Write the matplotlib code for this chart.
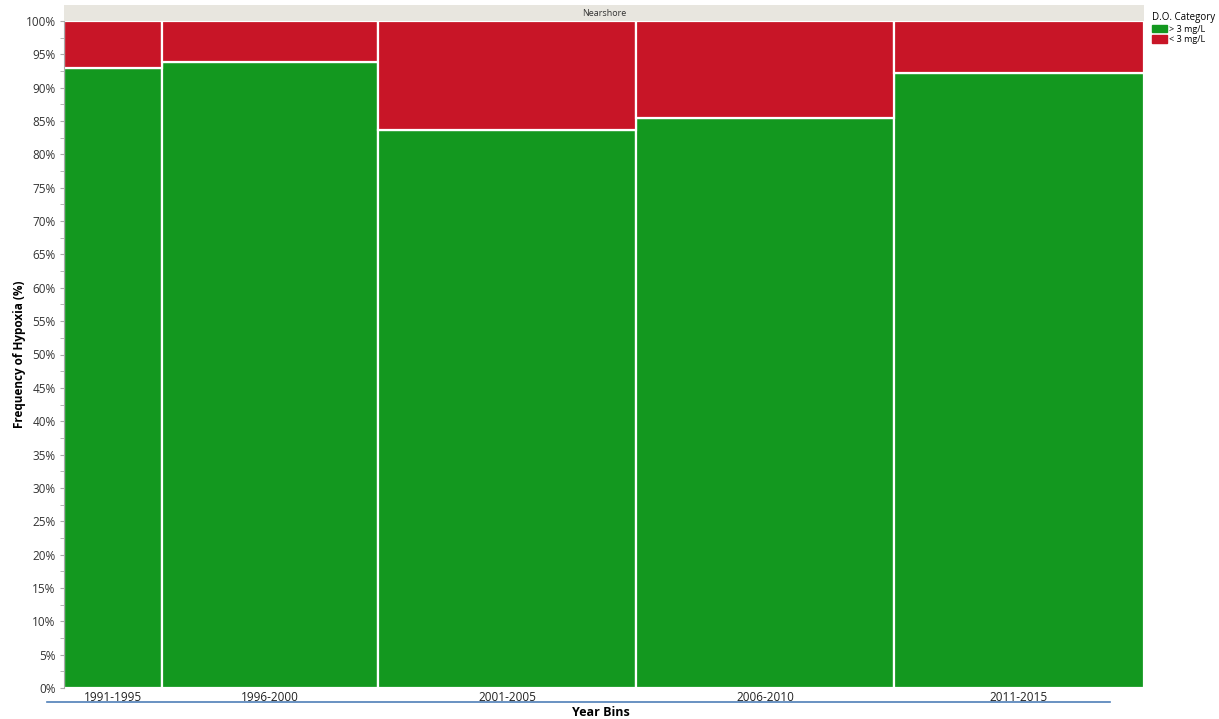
import matplotlib.pyplot as plt
import matplotlib.patches as mpatches
from matplotlib.lines import Line2D
import numpy as np

plt.rcParams['font.family'] = ['Open Sans', 'DejaVu Sans']

# data
year_bins = ["1991-1995", "1996-2000", "2001-2005", "2006-2010", "2011-2015"]
bin_widths = [98, 216, 258, 258, 250]          # relative sample size (bar widths)
pct_above3 = [92.9, 93.9, 83.6, 85.4, 92.2]     # % samples with D.O. > 3 mg/L
pct_below3 = [100 - v for v in pct_above3]      # % samples with D.O. < 3 mg/L

GREEN = "#13981f"
RED = "#c81527"

fig = plt.figure(figsize=(12.19, 7.19), dpi=100)
left, right = 64 / 1219, 1144 / 1219
bottom, top = 1 - 688 / 719, 1 - 21 / 719
ax = fig.add_axes([left, bottom, right - left, top - bottom])

lefts = np.concatenate([[0], np.cumsum(bin_widths)[:-1]])
ax.bar(lefts, pct_above3, width=bin_widths, align='edge', color=GREEN,
       edgecolor='white', linewidth=1.6)
ax.bar(lefts, pct_below3, width=bin_widths, bottom=pct_above3, align='edge',
       color=RED, edgecolor='white', linewidth=1.6)

ax.set_xlim(0, sum(bin_widths))
ax.set_ylim(0, 100)
ax.set_yticks(np.arange(0, 101, 5))
ax.set_yticklabels([f"{v}%" for v in range(0, 101, 5)], fontsize=8.5, color='#333333')
ax.set_yticks(np.arange(2.5, 100, 5), minor=True)
ax.tick_params(axis='y', which='both', length=3, color='#aaaaaa', pad=3)
ax.set_xticks(lefts + np.array(bin_widths) / 2)
ax.set_xticklabels(year_bins, fontsize=8.5, color='#222222')
ax.tick_params(axis='x', length=0, pad=2)
for s in ['top', 'right', 'bottom']:
    ax.spines[s].set_visible(False)
ax.spines['left'].set_color('#aaaaaa')
ax.spines['left'].set_linewidth(0.8)

ax.set_ylabel("Frequency of Hypoxia (%)", fontsize=8.5, fontweight='bold', labelpad=0)
fig.text(601 / 1219, 1 - 712 / 719, "Year Bins", ha='center', va='center',
         fontsize=9, fontweight='bold')

# header band
hdr = fig.add_axes([left, top, right - left, 16 / 719])
hdr.set_facecolor('#e8e6df')
hdr.set_xticks([])
hdr.set_yticks([])
for s in hdr.spines.values():
    s.set_visible(False)
hdr.text(0.5, 0.5, "Nearshore", ha='center', va='center', fontsize=6.5,
         color='#333333', transform=hdr.transAxes)

# blue axis line beneath tick labels
fig.add_artist(Line2D([47 / 1219, 1110 / 1219], [1 - 702 / 719] * 2,
                      color='#4f7fb8', linewidth=1.2))

# legend
handles = [mpatches.Patch(color=GREEN, label="> 3 mg/L"),
           mpatches.Patch(color=RED, label="< 3 mg/L")]
fig.legend(handles=handles, title="D.O. Category", loc='upper left',
           bbox_to_anchor=(1146 / 1219, 1 - 6 / 719), frameon=False,
           fontsize=6.5, title_fontsize=7, handlelength=1.6, handleheight=0.9,
           handletextpad=0.3, labelspacing=0.15, borderpad=0.2,
           alignment='left')

fig.savefig("out.png", dpi=100)
